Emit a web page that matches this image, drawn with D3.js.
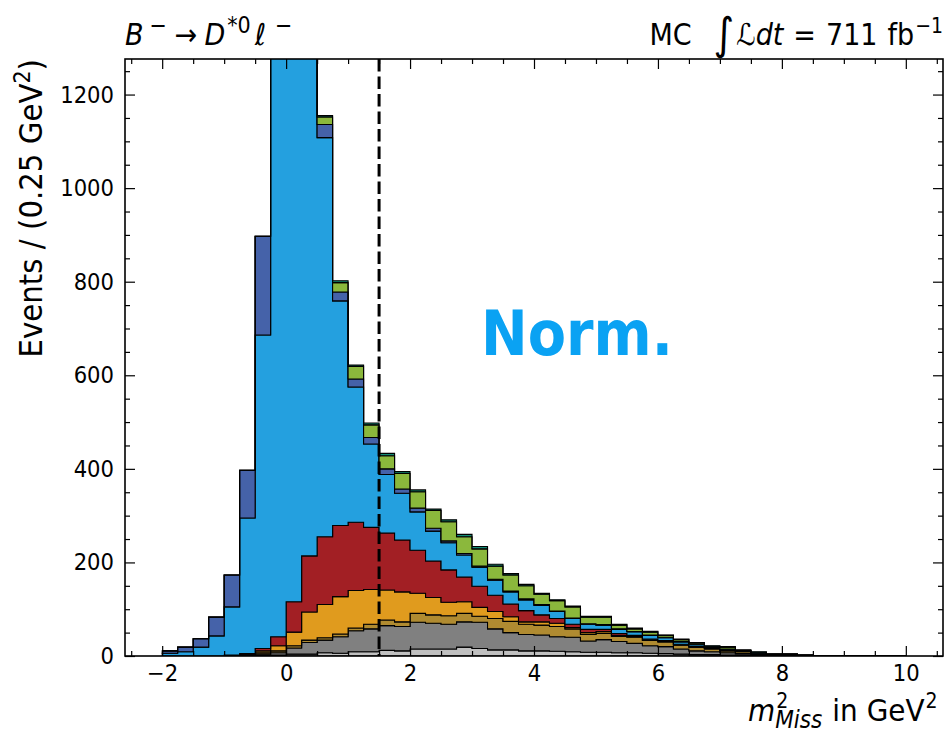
<!DOCTYPE html>
<html>
<head>
<meta charset="utf-8">
<script src="https://cdn.jsdelivr.net/npm/d3@7/dist/d3.min.js"></script>
<style>
  body { margin: 0; background: #fff; }
  svg text { font-family: "DejaVu Sans Condensed", "DejaVu Sans", sans-serif; font-stretch: condensed; fill: #000; }
</style>
</head>
<body>
<div id="chart"></div>
<script>
// bin edges in GeV^2 (0.25 wide)
const binEdges = [-2, -1.75, -1.5, -1.25, -1, -0.75, -0.5, -0.25, 0, 0.25, 0.5, 0.75, 1, 1.25, 1.5, 1.75,
  2, 2.25, 2.5, 2.75, 3, 3.25, 3.5, 3.75, 4, 4.25, 4.5, 4.75, 5, 5.25, 5.5, 5.75,
  6, 6.25, 6.5, 6.75, 7, 7.25, 7.5, 7.75, 8, 8.25, 8.5, 8.75, 9, 9.25, 9.5, 9.75, 10];

// stacked components, bottom to top (events per bin)
const lightGray = [0, 0, 0, 0, 0, 0, 1, 2, 4, 4, 7, 6, 9, 9, 12, 11, 15, 15, 15, 19, 16, 13, 13, 11, 11, 10, 9, 8, 8, 7, 7, 6, 5, 4, 3, 3, 2, 2, 1, 1, 0, 0, 0, 0, 0, 0, 0, 0];
const gray      = [0, 0, 0, 0, 1, 1, 3, 5, 13, 25, 27, 35, 45, 49, 53, 52, 57, 55, 53, 54, 56, 45, 37, 35, 34, 31, 31, 24, 27, 24, 20, 16, 15, 11, 8, 6, 5, 3, 2, 1, 2, 1, 1, 0.5, 0, 0, 0, 0];
const gold      = [0, 0, 0, 0, 1, 2, 3, 4, 5, 5, 5, 6, 6, 10, 12, 10, 19, 18, 18, 18, 13, 22, 24, 22, 21, 22, 18, 14, 13, 11, 13, 11, 10, 8, 8, 6, 4, 4, 3, 1, 1, 0, 0, 0, 0, 0, 0, 0];
const orange    = [0, 0, 0, 0, 0, 1, 4, 11, 29, 60, 71, 80, 80, 74, 64, 64, 43, 37, 29, 25, 19, 15, 10, 5, 7, 7, 3, 4, 4, 2, 2, 1, 1, 1, 1, 1, 1, 1, 0, 0, 0, 0, 0, 0, 0, 0, 0, 0];
const red       = [0, 0, 0, 0, 0, 1, 5, 19, 65, 120, 145, 152, 146, 133, 122, 111, 92, 78, 69, 53, 45, 35, 27, 24, 15, 10, 7, 7, 5, 4, 2, 2, 2, 1, 0, 0, 0, 0, 0, 0, 0, 0, 0, 0, 0, 0, 0, 0];
const lightBlue = [6, 9, 19, 43, 103, 290, 670, 1460, 1750, 1300, 853, 480, 289, 178, 125, 100, 82, 64, 58, 47, 41, 32, 26, 23, 20, 15, 12, 11, 9, 9, 8, 8, 6, 5, 4, 3, 3, 1, 1, 1, 1, 1, 0, 0, 0, 0, 0, 0];
const darkBlue  = [5, 10, 18, 40, 68, 102, 211, 60, 40, 35, 28, 19, 17, 14, 12, 9, 8, 6, 4, 3, 2, 2, 2, 2, 2, 1, 1, 1, 1, 1, 0, 1, 1, 1, 1, 0, 0, 0, 0, 0, 0, 0, 0, 0, 0, 0, 0, 0];
const green     = [0, 0, 0, 0, 0, 0, 0, 5, 20, 25, 16, 20, 27, 27, 28, 33, 35, 38, 41, 36, 37, 28, 34, 28, 22, 22, 24, 14, 16, 8, 6, 6, 4, 4, 3, 2, 4, 1, 1, 0, 0, 0, 0, 0, 0, 0, 0, 0];
const teal      = [0, 0, 0, 0, 0, 0, 0, 1, 3, 4, 3, 4, 3, 4, 5, 4, 4, 3, 4, 5, 5, 4, 3, 3, 2, 2, 2, 2, 2, 2, 2, 2, 1, 1, 1, 1, 1, 1, 1, 0, 0, 0, 0, 0, 0, 0, 0, 0];

const layerKeys = ["lightGray", "gray", "gold", "orange", "red", "lightBlue", "darkBlue", "green", "teal"];
const layerValues = [lightGray, gray, gold, orange, red, lightBlue, darkBlue, green, teal];
const layerColors = ["#c0c0c0", "#808080", "#b08b31", "#e09b1e", "#a21f24", "#24a0df", "#4562a9", "#8bb83c", "#138a73"];

const xTicks = [-2, 0, 2, 4, 6, 8, 10];
const yTicks = [0, 200, 400, 600, 800, 1000, 1200];
const cutValue = 1.5;

const W = 948, H = 732;
const plot = { left: 125, right: 943, top: 59, bottom: 656 };

const svg = d3.select("#chart").append("svg")
  .attr("width", W).attr("height", H);

const x = d3.scaleLinear().domain([-2.6, 10.6]).range([plot.left, plot.right]);
const y = d3.scaleLinear().domain([0, 1276]).range([plot.bottom, plot.top]);

svg.append("defs").append("clipPath").attr("id", "plotClip")
  .append("rect")
  .attr("x", plot.left).attr("y", plot.top)
  .attr("width", plot.right - plot.left).attr("height", plot.bottom - plot.top);

// stack
const rows = binEdges.slice(0, -1).map((lo, i) => {
  const r = { lo: lo, hi: binEdges[i + 1] };
  layerKeys.forEach((k, j) => { r[k] = layerValues[j][i]; });
  return r;
});
const stacked = d3.stack().keys(layerKeys)(rows);

const area = d3.area()
  .x(d => x(d.x))
  .y0(d => y(d.y0))
  .y1(d => y(d.y1))
  .curve(d3.curveStepAfter);

const gHist = svg.append("g").attr("clip-path", "url(#plotClip)");
stacked.forEach((s, j) => {
  const pts = s.map((d, i) => ({ x: rows[i].lo, y0: d[0], y1: d[1] }));
  const last = s[s.length - 1];
  pts.push({ x: rows[rows.length - 1].hi, y0: last[0], y1: last[1] });
  gHist.append("path")
    .attr("d", area(pts))
    .attr("fill", layerColors[j])
    .attr("stroke", "#000")
    .attr("stroke-width", 1.1)
    .attr("stroke-linejoin", "miter");
});

// cut line
gHist.append("line")
  .attr("x1", x(cutValue)).attr("x2", x(cutValue))
  .attr("y1", plot.top).attr("y2", y(0))
  .attr("stroke", "#000")
  .attr("stroke-width", 3)
  .attr("stroke-dasharray", "12.5,5");

// ticks (inward on all sides)
const xMinor = d3.range(-2.5, 10.51, 0.5).filter(v => !xTicks.includes(v));
const yMinor = d3.range(0, 1276, 50).filter(v => !yTicks.includes(v));

function styleAxis(g) {
  g.select(".domain").remove();
  g.selectAll("line").attr("stroke", "#000").attr("stroke-width", 1.2);
  g.selectAll("text").style("font-size", "23.5px").style("font-family", null);
}

svg.append("g").attr("transform", `translate(0,${plot.bottom})`)
  .call(d3.axisBottom(x).tickValues(xTicks).tickSize(-10).tickPadding(8).tickFormat(d3.format("d")))
  .call(styleAxis);
svg.append("g").attr("transform", `translate(0,${plot.bottom})`)
  .call(d3.axisBottom(x).tickValues(xMinor).tickSize(-5).tickFormat(""))
  .call(styleAxis);
svg.append("g").attr("transform", `translate(0,${plot.top})`)
  .call(d3.axisTop(x).tickValues(xTicks).tickSize(-10).tickFormat(""))
  .call(styleAxis);
svg.append("g").attr("transform", `translate(0,${plot.top})`)
  .call(d3.axisTop(x).tickValues(xMinor).tickSize(-5).tickFormat(""))
  .call(styleAxis);

svg.append("g").attr("transform", `translate(${plot.left},0)`)
  .call(d3.axisLeft(y).tickValues(yTicks).tickSize(-10).tickPadding(11).tickFormat(d3.format("d")))
  .call(styleAxis);
svg.append("g").attr("transform", `translate(${plot.left},0)`)
  .call(d3.axisLeft(y).tickValues(yMinor).tickSize(-5).tickFormat(""))
  .call(styleAxis);
svg.append("g").attr("transform", `translate(${plot.right},0)`)
  .call(d3.axisRight(y).tickValues(yTicks).tickSize(-10).tickFormat(""))
  .call(styleAxis);
svg.append("g").attr("transform", `translate(${plot.right},0)`)
  .call(d3.axisRight(y).tickValues(yMinor).tickSize(-5).tickFormat(""))
  .call(styleAxis);

// frame
svg.append("rect")
  .attr("x", plot.left).attr("y", plot.top)
  .attr("width", plot.right - plot.left).attr("height", plot.bottom - plot.top)
  .attr("fill", "none").attr("stroke", "#000").attr("stroke-width", 1.6);

// "Norm." label
svg.append("text")
  .attr("x", 577).attr("y", 355)
  .attr("text-anchor", "middle")
  .style("font-size", "62px").style("font-weight", "bold")
  .style("fill", "#0aa2f3")
  .text("Norm.");

// y axis label
const yl = svg.append("text")
  .attr("transform", `translate(42,${plot.top}) rotate(-90)`)
  .attr("text-anchor", "end")
  .style("font-size", "32.5px");
yl.append("tspan").text("Events / (0.25 GeV");
yl.append("tspan").attr("dy", -12).style("font-size", "23px").text("2");
yl.append("tspan").attr("dy", 12).text(")");

// x axis label: m^2_Miss in GeV^2
const xl = svg.append("text")
  .attr("x", 748).attr("y", 721)
  .style("font-size", "31px");
xl.append("tspan").style("font-style", "italic").text("m");
xl.append("tspan").attr("dx", 1).attr("dy", -13).style("font-size", "21px").text("2");
xl.append("tspan").attr("dx", -13).attr("dy", 20).style("font-size", "24px").style("font-style", "italic").text("Miss");
xl.append("tspan").attr("dx", 10).attr("dy", -7).text("in GeV");
xl.append("tspan").attr("dx", 1).attr("dy", -13).style("font-size", "21px").text("2");

// decay title (top left)
const tl = svg.append("text")
  .attr("x", plot.left).attr("y", 45)
  .style("font-size", "30px");
tl.append("tspan").style("font-style", "italic").text("B");
tl.append("tspan").attr("dx", 6).attr("dy", -12).style("font-size", "23px").text("\u2212");
tl.append("tspan").attr("dx", 8).attr("dy", 12).text("\u2192");
tl.append("tspan").attr("dx", 7).style("font-style", "italic").text("D");
tl.append("tspan").attr("dx", 2).attr("dy", -12).style("font-size", "23px").text("*0");
tl.append("tspan").attr("dx", 4).attr("dy", 12).style("font-style", "italic").text("\u2113");
tl.append("tspan").attr("dx", 9).attr("dy", -12).style("font-size", "23px").text("\u2212");

// luminosity (top right)
const tr = svg.append("text")
  .attr("x", plot.right).attr("y", 45)
  .attr("text-anchor", "end")
  .style("font-size", "30px");
tr.append("tspan").text("MC");
tr.append("tspan").attr("dx", 22).attr("dy", 4).style("font-size", "44px").text("\u222B");
tr.append("tspan").attr("dx", 2).attr("dy", -4).style("font-style", "italic").text("\u2112dt");
tr.append("tspan").attr("dx", 10).text("=");
tr.append("tspan").attr("dx", 10).text("711");
tr.append("tspan").attr("dx", 10).text("fb");
tr.append("tspan").attr("dx", 1).attr("dy", -12).style("font-size", "21px").text("\u22121");
</script>
</body>
</html>
